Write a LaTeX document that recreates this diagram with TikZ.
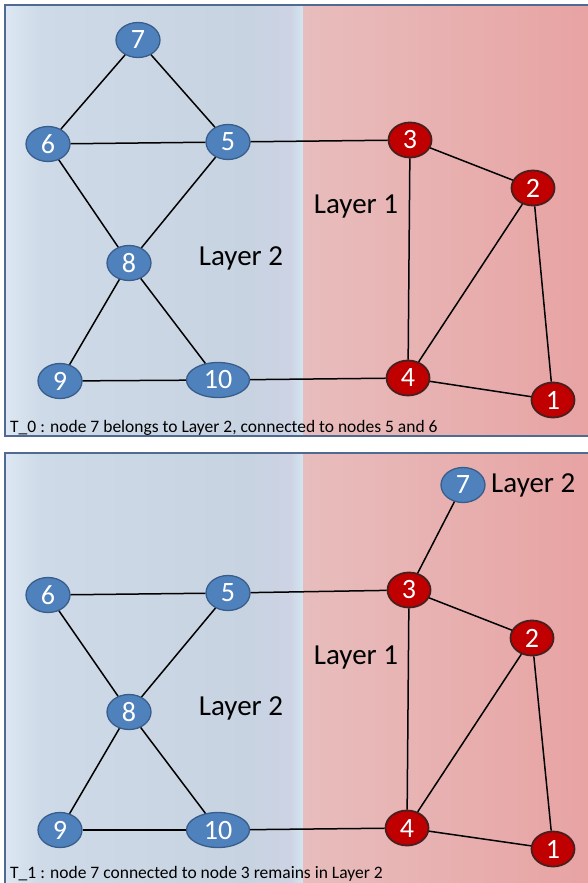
\documentclass[tikz,border=0pt]{standalone}
\usepackage{fontspec}
\setmainfont{Carlito}
\usetikzlibrary{shapes.geometric}
\definecolor{bnode}{HTML}{4F81BD}
\definecolor{bline}{HTML}{385D8A}
\definecolor{rnode}{HTML}{C00000}
\definecolor{rline}{HTML}{4A1E1E}
\definecolor{frame}{HTML}{506B91}
\definecolor{bA}{HTML}{DDE7F4}
\definecolor{bB}{HTML}{CEDAE7}
\definecolor{bC}{HTML}{C8D3E2}
\definecolor{bD}{HTML}{CDD3E4}
\definecolor{bE}{HTML}{D3E5F1}
\definecolor{rA}{HTML}{E8BDBD}
\definecolor{rB}{HTML}{E8A3A3}
\tikzset{
  bv/.style={ellipse,draw=bline,line width=1.3pt,fill=bnode,text=white,
    minimum width=44pt,minimum height=35pt,inner sep=0pt,font=\fontsize{28}{28}\selectfont},
  rv/.style={ellipse,draw=rline,line width=1.8pt,fill=rnode,text=white,
    minimum width=43pt,minimum height=35pt,inner sep=0pt,font=\fontsize{28}{28}\selectfont},
  wide/.style={minimum width=63pt},
  edge/.style={draw=black,line width=1.5pt},
  layerlbl/.style={font=\fontsize{29}{29}\selectfont,inner sep=0pt},
  caption/.style={font=\fontsize{17.5}{17.5}\selectfont,inner sep=0pt,anchor=base west},
  panelframe/.style={draw=frame,line width=2pt}
}
\begin{document}
\begin{tikzpicture}[x=1pt,y=-1pt]
\useasboundingbox (0,0) rectangle (587,883);
\fill[white] (0,0) rectangle (587,883);
% ---------- backgrounds ----------
\foreach \yt/\yb in {5/436,453/884}{
  \shade[left color=bA,right color=bB,draw=none] (6,\yt) rectangle (40,\yb);
  \shade[left color=bB,right color=bC,draw=none] (40,\yt) rectangle (250,\yb);
  \shade[left color=bC,right color=bD,draw=none] (250,\yt) rectangle (290,\yb);
  \shade[left color=bD,right color=bE,draw=none] (290,\yt) rectangle (303,\yb);
  \shade[left color=rA,right color=rB,draw=none] (303,\yt) rectangle (588,\yb);
}
\draw[panelframe] (5,5) rectangle (590,436);
\draw[panelframe] (5,453) rectangle (590,886);
% ---------- panel 1 ----------
\node[bv] (a7) at (138,40) {7};
\node[bv] (a6) at (48,144) {6};
\node[bv] (a5) at (228,142) {5};
\node[bv] (a8) at (129,263) {8};
\node[bv] (a9) at (60,381) {9};
\node[bv,wide] (a10) at (218,380) {10};
\node[rv] (a3) at (410,140) {3};
\node[rv] (a2) at (533,188) {2};
\node[rv] (a4) at (408,378) {4};
\node[rv] (a1) at (553,400) {1};
\node[layerlbl] (aL1) at (356,207) {Layer 1};
\node[layerlbl] (aL2) at (241,258) {Layer 2};
\node[caption] (acap) at (10,432) {T\_0 : node 7 belongs to Layer 2, connected to nodes 5 and 6};
\foreach \u/\v in {a7/a6,a7/a5,a6/a5,a6/a8,a5/a8,a8/a9,a8/a10,a9/a10,a10/a4,a5/a3,a3/a2,a3/a4,a2/a4,a2/a1,a4/a1}
  \draw[edge] (\u) -- (\v);
% ---------- panel 2 ----------
\node[bv] (b7) at (463,485) {7};
\node[bv] (b6) at (48,595) {6};
\node[bv] (b5) at (228,593) {5};
\node[bv] (b8) at (129,712) {8};
\node[bv] (b9) at (60,830) {9};
\node[bv,wide] (b10) at (218,830) {10};
\node[rv] (b3) at (409,590) {3};
\node[rv] (b2) at (532,638) {2};
\node[rv] (b4) at (407,828) {4};
\node[rv] (b1) at (553,849) {1};
\node[layerlbl] (bL1) at (356,657) {Layer 1};
\node[layerlbl] (bL2) at (241,708) {Layer 2};
\node[layerlbl,anchor=west] (bL7) at (491,485) {Layer 2};
\node[caption] (bcap) at (10,878) {T\_1 : node 7 connected to node 3 remains in Layer 2};
\foreach \u/\v in {b6/b5,b6/b8,b5/b8,b8/b9,b8/b10,b9/b10,b10/b4,b5/b3,b3/b7,b3/b2,b3/b4,b2/b4,b2/b1,b4/b1}
  \draw[edge] (\u) -- (\v);
\end{tikzpicture}
\end{document}
